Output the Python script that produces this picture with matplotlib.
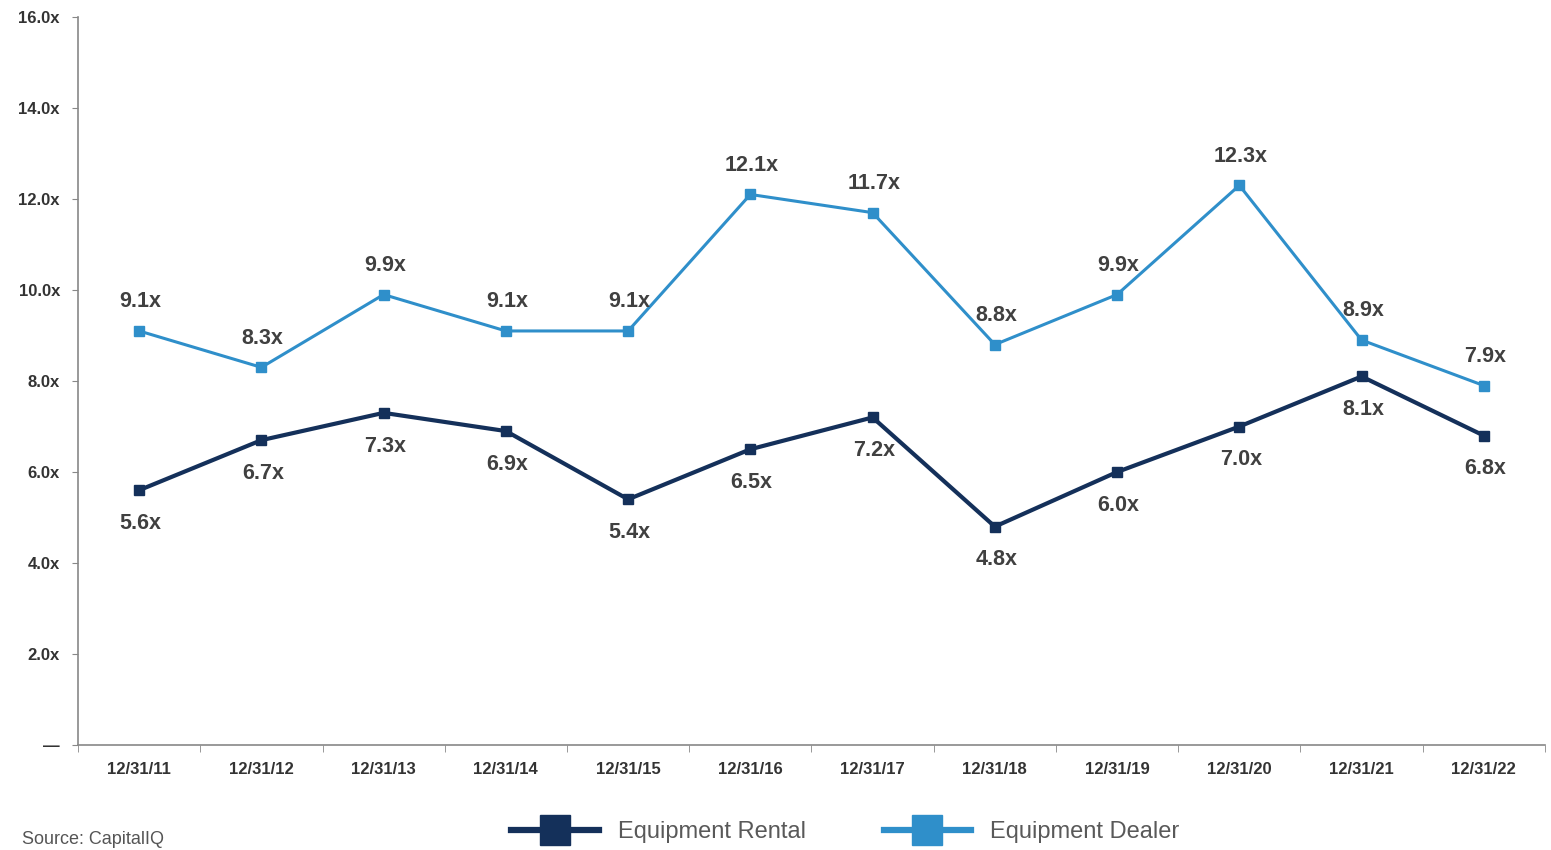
import numpy as np
import matplotlib.pyplot as plt
from matplotlib.ticker import FixedLocator

# Data
dates = ['12/31/11', '12/31/12', '12/31/13', '12/31/14', '12/31/15', '12/31/16',
         '12/31/17', '12/31/18', '12/31/19', '12/31/20', '12/31/21', '12/31/22']
rental = [5.6, 6.7, 7.3, 6.9, 5.4, 6.5, 7.2, 4.8, 6.0, 7.0, 8.1, 6.8]
dealer = [9.1, 8.3, 9.9, 9.1, 9.1, 12.1, 11.7, 8.8, 9.9, 12.3, 8.9, 7.9]
y_ticks = [0, 2, 4, 6, 8, 10, 12, 14, 16]
y_labels = ['—', '2.0x', '4.0x', '6.0x', '8.0x', '10.0x', '12.0x', '14.0x', '16.0x']

navy = '#14305a'
blue = '#2f8fca'
label_gray = '#404040'

plt.rcParams['font.family'] = ['Liberation Sans', 'DejaVu Sans']

fig = plt.figure(figsize=(15.51, 8.5), dpi=100)
ax = fig.add_axes([0.0503, 0.1235, 0.9458, 0.8565])

x = np.arange(len(dates))
ax.plot(x, rental, color=navy, lw=3.0, marker='s', ms=6.5, label='Equipment Rental', zorder=3)
ax.plot(x, dealer, color=blue, lw=2.2, marker='s', ms=6.5, label='Equipment Dealer', zorder=3)

# Data labels: dealer above, rental below
for i in range(len(x)):
    ax.annotate(f'{dealer[i]:.1f}x', (x[i], dealer[i]), xytext=(1, 21), textcoords='offset points',
                ha='center', va='center', fontsize=15.5, fontweight='bold', color=label_gray)
    ax.annotate(f'{rental[i]:.1f}x', (x[i], rental[i]), xytext=(1, -24), textcoords='offset points',
                ha='center', va='center', fontsize=15.5, fontweight='bold', color=label_gray)

ax.set_xlim(-0.5, len(dates) - 0.5)
ax.set_ylim(0, 16)
ax.set_xticks(x)
ax.set_xticklabels(dates, fontsize=12, fontweight='bold', color='#333333')
ax.tick_params(axis='x', length=0, pad=12)
ax.xaxis.set_minor_locator(FixedLocator(np.arange(-0.5, len(dates), 1.0)))
ax.tick_params(axis='x', which='minor', length=5, color='#888888', direction='out')
ax.set_yticks(y_ticks)
ax.set_yticklabels(y_labels, fontsize=12, fontweight='bold', color='#333333')
ax.tick_params(axis='y', length=4, color='#888888', pad=9)

for side in ['top', 'right']:
    ax.spines[side].set_visible(False)
for side in ['left', 'bottom']:
    ax.spines[side].set_color('#888888')
    ax.spines[side].set_linewidth(1.2)

# Legend with oversized square markers
h1 = plt.Line2D([], [], color=navy, lw=4.5, marker='s', ms=22)
h2 = plt.Line2D([], [], color=blue, lw=4.5, marker='s', ms=22)
fig.legend([h1, h2], ['Equipment Rental', 'Equipment Dealer'], loc='center',
           bbox_to_anchor=(0.545, 0.021), ncol=2, frameon=False, handlelength=3.7,
           columnspacing=3.3, handletextpad=0.8,
           prop={'size': 17}, labelcolor='#595959')

fig.text(0.014, 0.002, 'Source: CapitalIQ', fontsize=13, color='#555555', va='bottom')

fig.savefig('out.png', dpi=100)
